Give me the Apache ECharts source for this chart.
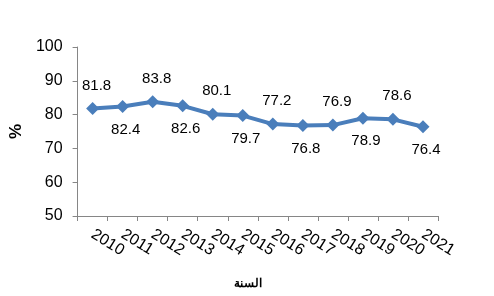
<!DOCTYPE html>
<html>
<head>
<meta charset="utf-8">
<script src="https://cdn.jsdelivr.net/npm/echarts@6/dist/echarts.min.js"></script>
<style>html,body{margin:0;padding:0;background:#fff}#c{width:494px;height:296px}</style>
</head>
<body>
<div id="c"></div>
<script>
var years = ['2010','2011','2012','2013','2014','2015','2016','2017','2018','2019','2020','2021'];
var values = [81.8, 82.4, 83.8, 82.6, 80.1, 79.7, 77.2, 76.8, 76.9, 78.9, 78.6, 76.4];
var yTicks = [50, 60, 70, 80, 90, 100];
var xTitle = 'السنة';
var yTitle = '%';

var chart = echarts.init(document.getElementById('c'));
var font = '"Liberation Sans", Arial, sans-serif';
chart.setOption({
  animation: false,
  backgroundColor: '#ffffff',
  grid: {left: 72, right: 56, top: 47, bottom: 80},
  xAxis: {
    type: 'category',
    data: years,
    boundaryGap: true,
    name: xTitle,
    nameLocation: 'middle',
    nameGap: 62,
    nameTextStyle: {fontFamily: font, fontSize: 12, fontWeight: 'bold', color: '#000', padding: [0, 20, 0, 0]},
    axisLine: {lineStyle: {color: '#868686', width: 1}},
    axisTick: {show: true, alignWithLabel: false, length: 5, lineStyle: {color: '#868686'}},
    axisLabel: {rotate: -32, fontFamily: font, fontSize: 16, color: '#000', margin: 17, interval: 0},
    splitLine: {show: false}
  },
  yAxis: {
    type: 'value',
    min: yTicks[0],
    max: yTicks[yTicks.length - 1],
    interval: 10,
    name: yTitle,
    nameLocation: 'middle',
    nameRotate: 90,
    nameGap: 47,
    nameTextStyle: {fontFamily: font, fontSize: 17, fontWeight: 'bold', color: '#000'},
    axisLine: {show: true, lineStyle: {color: '#868686', width: 1}},
    axisTick: {show: true, length: 5, lineStyle: {color: '#868686'}},
    axisLabel: {fontFamily: font, fontSize: 16, color: '#000', margin: 15},
    splitLine: {show: false}
  },
  series: [{
    type: 'line',
    data: values.map(function (v, i) {
      return {
        value: v,
        label: {offset: i % 2 === 0 ? [4, -23] : [3, 23]}
      };
    }),
    symbol: 'diamond',
    symbolSize: 13,
    lineStyle: {color: '#4a7ebb', width: 4},
    itemStyle: {color: '#4a7ebb'},
    label: {
      show: true,
      position: 'inside',
      fontFamily: font,
      fontSize: 15,
      color: '#000',
      formatter: function (p) { return p.value.toFixed(1); }
    }
  }]
});
</script>
</body>
</html>
